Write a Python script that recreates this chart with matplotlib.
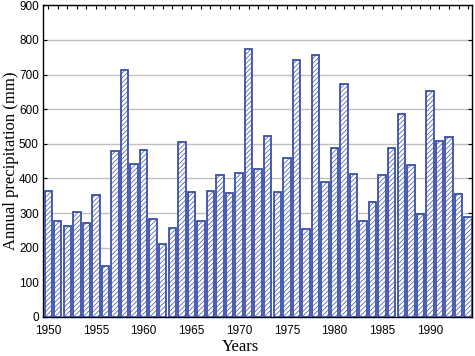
import numpy as np
import matplotlib
matplotlib.use("Agg")
import matplotlib.pyplot as plt
from matplotlib.ticker import MultipleLocator

# --- Données : précipitations annuelles (mm) ---
years = np.arange(1950, 1995)
precip = [365, 277, 262, 303, 270, 351, 146, 478, 712, 441,
          481, 284, 211, 258, 504, 362, 277, 365, 409, 359,
          417, 773, 426, 524, 362, 458, 741, 255, 758, 391,
          487, 672, 412, 276, 333, 410, 489, 586, 438, 296,
          652, 507, 519, 354, 290]

bar_color = "#3B4FA8"

plt.rcParams["hatch.linewidth"] = 0.5
plt.rcParams["font.family"] = "Liberation Sans"

fig = plt.figure(figsize=(4.75, 3.56), dpi=100)
ax = fig.add_axes([0.0905, 0.1096, 0.904, 0.8754])

ax.bar(years, precip, width=0.78, color="white", edgecolor=bar_color,
       linewidth=1.3, hatch="///////", zorder=3)

ax.set_xlim(1949.45, 1994.45)
ax.set_ylim(0, 900)
ax.xaxis.set_major_locator(MultipleLocator(5))
ax.xaxis.set_minor_locator(MultipleLocator(1))
ax.yaxis.set_major_locator(MultipleLocator(100))
ax.grid(axis="y", color="#c0c0c0", linewidth=1.0, zorder=0)

ax.tick_params(which="both", direction="in", top=True, right=True,
               labelsize=8.5, length=3, width=0.8)
ax.tick_params(axis="x", pad=5.5)
ax.tick_params(axis="y", pad=3)

for s in ax.spines.values():
    s.set_linewidth(1.0)

ax.set_xlabel("Years", family="Liberation Serif", fontsize=12)
ax.xaxis.set_label_coords(0.459, -0.07, transform=ax.transAxes)
ax.xaxis.label.set_va("top")
ax.set_ylabel("Annual precipitation (mm)", family="Liberation Serif",
              fontsize=12, labelpad=0)

plt.savefig("out.png", dpi=100)
